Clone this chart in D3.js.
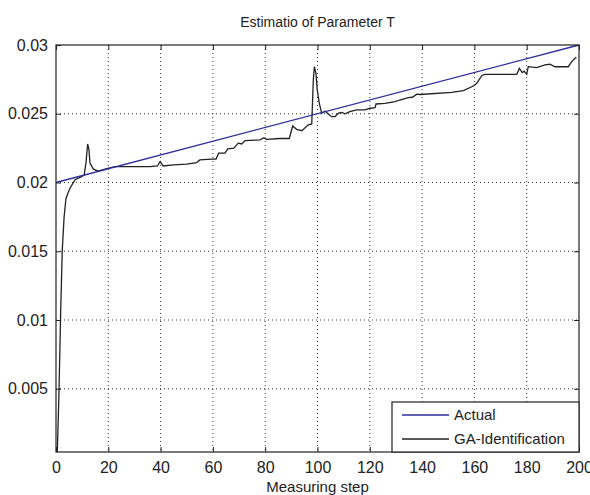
<!DOCTYPE html>
<html>
<head>
<meta charset="utf-8">
<script src="https://cdn.jsdelivr.net/npm/d3@7/dist/d3.min.js"></script>
<style>
  body { margin: 0; background: #fff; }
  svg text { font-family: "Liberation Sans", Arial, sans-serif; fill: #222; }
</style>
</head>
<body>
<script>
// values
const xTicks = [0, 20, 40, 60, 80, 100, 120, 140, 160, 180, 200];
const yTicks = [0.005, 0.01, 0.015, 0.02, 0.025, 0.03];
const yTickLabels = ["0.005", "0.01", "0.015", "0.02", "0.025", "0.03"];

const actualSteps = [0, 200];
const actualValues = [0.02, 0.03];

const gaSteps = [0.5, 1.1, 1.8, 2.4, 3.1, 3.8, 4.5, 5.4, 7.3, 9.8, 10.8, 11.5, 12.1, 12.6, 13.0, 14.3, 16.2, 19.4, 22.6,
  36, 38.8, 39.8, 41, 44.9, 50, 53.8, 55, 59.5, 61.2, 62.2, 64.6, 65.7, 68, 69.7, 71, 72.3, 78, 79.3, 80.6, 85.7,
  89.2, 90.5, 92, 94, 96.5, 97.8, 98.4, 98.8, 99.4, 99.9, 100.7, 101.6, 102.9, 104, 105.4, 106.7, 108, 109.3,
  110.5, 112.4, 115, 118.2, 120, 122, 122.4, 125.8, 129.6, 131.5, 134.7, 136.3, 138, 139.2, 151.3, 155.8, 159.6,
  160.9, 162.8, 164, 176.2, 177.2, 178.3, 179, 180, 180.6, 183.8, 187, 188.9, 190.8, 195.9, 197.2, 198.5, 199];
const gaValues = [0.0004, 0.0044, 0.0107, 0.0151, 0.0175, 0.0188, 0.0192, 0.0196, 0.0202, 0.02043, 0.02055, 0.0215,
  0.0228, 0.0224, 0.02142, 0.02097, 0.02082, 0.02101, 0.02116,
  0.02116, 0.0212, 0.02152, 0.0212, 0.02128, 0.02133, 0.02145, 0.02164, 0.0217, 0.0217, 0.02213, 0.02213, 0.02245,
  0.0225, 0.02286, 0.0228, 0.02305, 0.0231, 0.02324, 0.02314, 0.0232,
  0.0232, 0.02411, 0.02387, 0.02377, 0.02419, 0.02426, 0.02746, 0.02842, 0.02794, 0.02673, 0.02576, 0.02504,
  0.0252, 0.025, 0.02479, 0.0248, 0.02504, 0.0251,
  0.025, 0.02515, 0.02528, 0.02528, 0.0254, 0.02545, 0.02571, 0.02576, 0.02588, 0.026, 0.02617, 0.0262, 0.02642,
  0.0264, 0.02656, 0.02668, 0.02702,
  0.02721, 0.02777, 0.02787, 0.02787, 0.0283, 0.02799, 0.0281, 0.02787, 0.02842, 0.02835, 0.02855, 0.0286,
  0.02842, 0.02842, 0.02879, 0.02903, 0.0291];

const seriesNames = ["Actual", "GA-Identification"];
const seriesColors = ["#2e2e9a", "#222222"];

const width = 590, height = 495;
const margin = {top: 45, right: 11, bottom: 43, left: 56};
const plotW = width - margin.left - margin.right;
const plotH = height - margin.top - margin.bottom;

const svg = d3.select("body").append("svg")
  .attr("width", width)
  .attr("height", height);

const x = d3.scaleLinear().domain([0, 200]).range([0, plotW]);
const y = d3.scaleLinear().domain([0.0004, 0.03]).range([plotH, 0]);

const g = svg.append("g")
  .attr("transform", "translate(" + margin.left + "," + margin.top + ")");

// dotted grid
g.append("g").selectAll("line")
  .data(xTicks.slice(1, -1))
  .enter().append("line")
  .attr("x1", d => x(d)).attr("x2", d => x(d))
  .attr("y1", 0).attr("y2", plotH)
  .attr("stroke", "#333").attr("stroke-width", 1)
  .attr("stroke-dasharray", "1,3");

g.append("g").selectAll("line")
  .data(yTicks.slice(0, -1))
  .enter().append("line")
  .attr("x1", 0).attr("x2", plotW)
  .attr("y1", d => y(d)).attr("y2", d => y(d))
  .attr("stroke", "#333").attr("stroke-width", 1)
  .attr("stroke-dasharray", "1,3");

// axes (matlab style: inward ticks on all four sides)
const fmtY = d => yTickLabels[yTicks.indexOf(d)];
const xAxis = g.append("g")
  .attr("transform", "translate(0," + plotH + ")")
  .call(d3.axisBottom(x).tickValues(xTicks).tickFormat(d3.format("d")).tickSizeInner(-5).tickSizeOuter(0).tickPadding(10));
const yAxis = g.append("g")
  .call(d3.axisLeft(y).tickValues(yTicks).tickFormat(fmtY).tickSizeInner(-5).tickSizeOuter(0).tickPadding(8));
g.append("g")
  .call(d3.axisTop(x).tickValues(xTicks).tickFormat("").tickSizeInner(-5).tickSizeOuter(0));
g.append("g")
  .attr("transform", "translate(" + plotW + ",0)")
  .call(d3.axisRight(y).tickValues(yTicks).tickFormat("").tickSizeInner(-5).tickSizeOuter(0));

svg.selectAll(".tick text").style("font-size", "16px").attr("fill", "#222");
svg.selectAll(".domain").remove();
svg.selectAll(".tick line").attr("stroke", "#222");

// lines
const lineGen = d3.line().x(d => x(d[0])).y(d => y(d[1]));
const actualData = actualSteps.map((s, i) => [s, actualValues[i]]);
const gaData = gaSteps.map((s, i) => [s, gaValues[i]]);

g.append("path")
  .datum(gaData)
  .attr("d", lineGen)
  .attr("fill", "none")
  .attr("stroke", seriesColors[1])
  .attr("stroke-width", 1.3);

g.append("path")
  .datum(actualData)
  .attr("d", lineGen)
  .attr("fill", "none")
  .attr("stroke", seriesColors[0])
  .attr("stroke-width", 1.3);

// frame
g.append("rect")
  .attr("width", plotW).attr("height", plotH)
  .attr("fill", "none").attr("stroke", "#222").attr("stroke-width", 1.2);

// legend
const legend = g.append("g")
  .attr("transform", "translate(" + (plotW - 187) + "," + (plotH - 50) + ")");
legend.append("rect")
  .attr("width", 187).attr("height", 50)
  .attr("fill", "#fff").attr("stroke", "#222").attr("stroke-width", 1.2);
const item = legend.selectAll(".item")
  .data(seriesNames)
  .enter().append("g")
  .attr("class", "item")
  .attr("transform", (d, i) => "translate(0," + (13 + i * 24) + ")");
item.append("line")
  .attr("x1", 10).attr("x2", 57)
  .attr("stroke", (d, i) => seriesColors[i]).attr("stroke-width", 1.3);
item.append("text")
  .attr("x", 62).attr("dy", "0.35em")
  .style("font-size", "15px")
  .text(d => d);

// titles
svg.append("text")
  .attr("x", margin.left + plotW / 2).attr("y", 27)
  .attr("text-anchor", "middle")
  .style("font-size", "14px")
  .text("Estimatio of Parameter T");

svg.append("text")
  .attr("x", margin.left + plotW / 2).attr("y", 492)
  .attr("text-anchor", "middle")
  .style("font-size", "15px")
  .text("Measuring step");
</script>
</body>
</html>
